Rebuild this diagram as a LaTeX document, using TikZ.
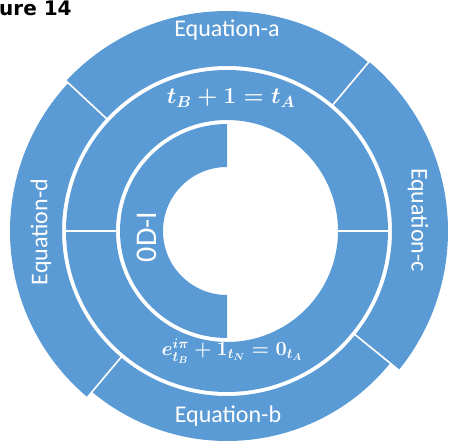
\RequirePackage{fix-cm}
\documentclass[tikz,border=0pt]{standalone}
\usepackage{fontspec}
\setmainfont{Carlito}
\newfontfamily\figfont{DejaVu Sans}
\usepackage{tikz}
\definecolor{ringBlue}{HTML}{5B9BD5}
% one blue annular piece: start angle, end angle, inner radius, outer radius (pt)
\newcommand{\ringpart}[4]{%
  \fill[ringBlue] (#1:#3pt) arc[start angle=#1, end angle=#2, radius=#3pt]
    -- (#2:#4pt) arc[start angle=#2, end angle=#1, radius=#4pt] -- cycle;
}

\begin{document}
\begin{tikzpicture}[x=1pt, y=1pt,
  sepline/.style={draw=white, line width=1.6pt},
  midsep/.style={draw=white, line width=2.2pt},
  eqlabel/.style={text=white, inner sep=0pt, font=\fontsize{24}{28}\selectfont},
  mathlabel/.style={text=white, inner sep=0pt},
  title/.style={anchor=base west, inner sep=0pt, font=\figfont\bfseries\fontsize{20}{24}\selectfont}]
  \useasboundingbox (0,0) rectangle (450,445);
  \begin{scope}[shift={(227,214)}]
    % outer ring
    \ringpart{50}{137}{165}{220}
    \ringpart{137}{230}{165}{217}
    \ringpart{230}{321}{165}{210}
    \ringpart{321}{410}{165}{221}
    \foreach \a in {50,137,230,321}
      \draw[sepline] (\a:162pt) -- (\a:226pt);
    % middle ring
    \ringpart{0}{180}{111}{161}
    \ringpart{180}{360}{111}{161}
    \foreach \a in {0,180}
      \draw[midsep] (\a:109pt) -- (\a:163pt);
    % inner half ring
    \ringpart{90}{270}{64}{107}
  \end{scope}
  % labels
  \node[title] (fig) at (-1,429) {ure 14};
  \node[eqlabel] (eqa) at (227,415) {Equation-a};
  \node[eqlabel] (eqb) at (228,29) {Equation-b};
  \node[eqlabel, rotate=-90] (eqc) at (418,225) {Equation-c};
  \node[eqlabel, rotate=90] (eqd) at (41,213) {Equation-d};
  \node[eqlabel, rotate=90, font=\fontsize{30}{34}\selectfont] (odi) at (147,208) {0D-I};
  \node[mathlabel, font=\fontsize{23}{27}\selectfont\boldmath] (topeq) at (231,347) {$t_B+1=t_A$};
  \node[mathlabel, font=\fontsize{20}{24}\selectfont\boldmath] (boteq) at (232,94) {$e_{t_B}^{i\pi}+1_{t_N}=0_{t_A}$};
\end{tikzpicture}
\end{document}
